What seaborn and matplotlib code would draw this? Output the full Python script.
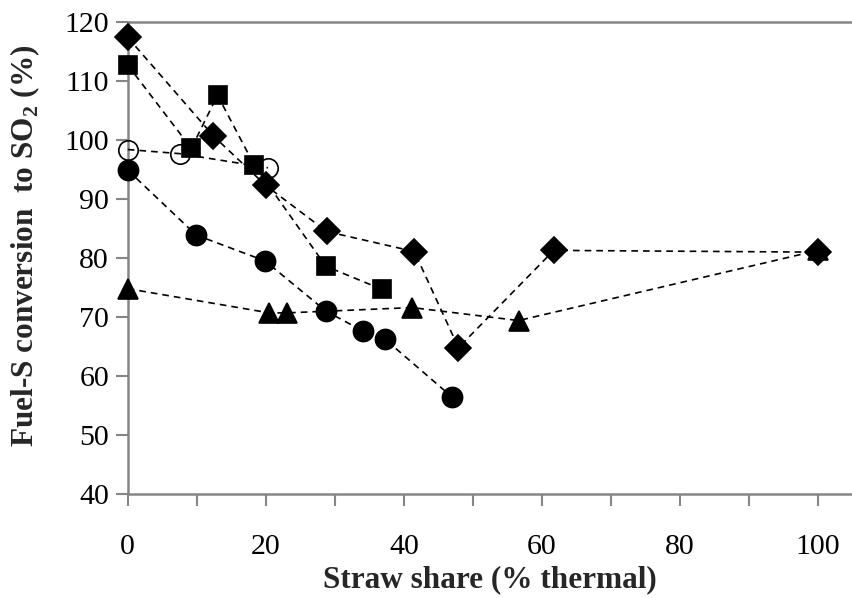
import matplotlib
matplotlib.use('Agg')
import matplotlib.pyplot as plt
import seaborn as sns

# ─── Data ─────────────────────────────────────────────────────────────────────
diamond_x = [0, 12.4, 20.0, 28.8, 41.5, 47.9, 61.7, 100]
diamond_y = [117.4, 100.7, 92.3, 84.5, 81.1, 64.8, 81.3, 81.0]

square_x = [0, 9.2, 13.0, 18.3, 28.7, 36.8]
square_y = [112.7, 98.6, 107.6, 95.8, 78.6, 74.7]

open_circle_x = [0, 7.5, 20.3]
open_circle_y = [98.4, 97.7, 95.3]

circle_x = [0, 9.9, 19.9, 28.7, 34.1, 37.3, 46.9]
circle_y = [94.9, 83.9, 79.5, 71.0, 67.6, 66.2, 56.5]

triangle_x = [0, 20.5, 23.0, 41.2, 56.6, 100]
triangle_y = [74.8, 70.7, 70.7, 71.6, 69.4, 81.3]

x_ticks = [0, 20, 40, 60, 80, 100]
y_ticks = [40, 50, 60, 70, 80, 90, 100, 110, 120]

# ─── Style ────────────────────────────────────────────────────────────────────
sns.set_style("white")
plt.rcParams['font.family'] = ['Liberation Serif', 'DejaVu Serif']
plt.rcParams['mathtext.fontset'] = 'custom'
plt.rcParams['mathtext.bf'] = 'Liberation Serif:bold'
plt.rcParams['mathtext.rm'] = 'Liberation Serif'

AXIS = "#868686"

fig = plt.figure(figsize=(8.52, 5.98), dpi=100)
ax = fig.add_axes([0.150, 0.174, 0.850, 0.789])

series = [
    (diamond_x, diamond_y, "D", "black", 13),
    (square_x, square_y, "s", "black", 13.5),
    (open_circle_x, open_circle_y, "o", "none", 14),
    (circle_x, circle_y, "o", "black", 14.5),
    (triangle_x, triangle_y, "^", "black", 14.5),
]
for xs, ys, mk, fc, ms in series:
    sns.lineplot(x=xs, y=ys, ax=ax, sort=False, color="black",
                 linewidth=1.2, linestyle=(0, (4, 3)),
                 marker=mk, markersize=ms, markerfacecolor=fc,
                 markeredgecolor="black", markeredgewidth=1.2,
                 clip_on=False, zorder=3)

ax.set_xlim(0, 104.9)
ax.set_ylim(40, 120)
ax.set_xticks(range(0, 101, 10))
ax.set_xticklabels([str(v) if v in x_ticks else "" for v in range(0, 101, 10)])
ax.set_yticks(y_ticks)

for side in ["left", "bottom", "top"]:
    ax.spines[side].set_color(AXIS)
    ax.spines[side].set_linewidth(1.8)
ax.spines["right"].set_visible(False)

ax.tick_params(axis="both", direction="out", length=8.5, width=1.5, color=AXIS,
               labelsize=21.5, labelcolor="black")
ax.tick_params(axis="x", pad=20)
ax.tick_params(axis="y", pad=5)
ax.tick_params(left=True, bottom=True)

ax.set_xlabel("Straw share (% thermal)", fontsize=22.5, fontweight="bold", labelpad=4)
ax.set_ylabel(r"Fuel-S conversion  to SO$_\mathbf{2}$ (%)", fontsize=22.5,
              fontweight="bold")
ax.yaxis.set_label_coords(-0.118, 0.525)

fig.savefig("out.png", dpi=100)
